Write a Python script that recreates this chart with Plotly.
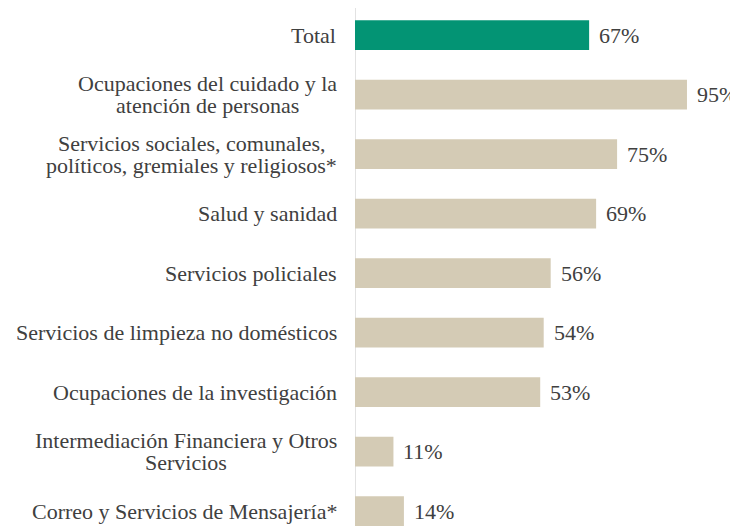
import plotly.graph_objects as go

categories = [
    ["Total"],
    ["Ocupaciones del cuidado y la", "atención de personas"],
    ["Servicios sociales, comunales,", "políticos, gremiales y religiosos*"],
    ["Salud y sanidad"],
    ["Servicios policiales"],
    ["Servicios de limpieza no domésticos"],
    ["Ocupaciones de la investigación"],
    ["Intermediación Financiera y Otros", "Servicios"],
    ["Correo y Servicios de Mensajería*"],
]
values = [67, 95, 75, 69, 56, 54, 53, 11, 14]
value_labels = ["67%", "95%", "75%", "69%", "56%", "54%", "53%", "11%", "14%"]
colors = ["#039474"] + ["#D4CBB5"] * 8

FONT = "Liberation Serif, Times New Roman, serif"
TXT = "#404040"
FS = 22
LINE = 22  # px between stacked label lines

# Times/Liberation Serif advance widths (per 1000 em) for centering stacked lines
W = {" ": 250, ",": 250, "*": 500, "a": 444, "b": 500, "c": 444, "d": 500, "e": 444,
     "f": 333, "g": 500, "h": 500, "i": 278, "j": 278, "k": 500, "l": 278, "m": 778,
     "n": 500, "o": 500, "p": 500, "q": 500, "r": 333, "s": 389, "t": 278, "u": 500,
     "v": 500, "w": 722, "x": 500, "y": 500, "z": 444, "á": 444, "é": 444, "í": 278,
     "ó": 500, "O": 722, "S": 556, "I": 333, "F": 556, "C": 667, "T": 611, "M": 889}


def text_width(s):
    return sum(W.get(ch, 500) for ch in s) * FS / 1000.0


pos = list(range(len(categories)))

fig = go.Figure()
fig.add_trace(go.Bar(
    x=values, y=pos, orientation="h",
    marker=dict(color=colors, line=dict(width=0)),
    width=0.5, hoverinfo="skip",
))

GAP = 18
annotations = []
for i, (lines, v, lab) in enumerate(zip(categories, values, value_labels)):
    n = len(lines)
    block_w = max(text_width(s) for s in lines)
    for k, s in enumerate(lines):
        yshift = ((n - 1) / 2 - k) * LINE
        annotations.append(dict(
            x=0, xref="paper", y=i, yref="y", text=s, showarrow=False,
            xanchor="center", yanchor="middle",
            xshift=-GAP - block_w / 2, yshift=yshift,
            font=dict(family=FONT, size=FS, color=TXT),
        ))
    annotations.append(dict(
        x=v, xref="x", y=i, yref="y", text=lab, showarrow=False,
        xanchor="left", yanchor="middle", xshift=8,
        font=dict(family=FONT, size=FS, color=TXT),
    ))

fig.update_layout(
    width=730, height=518,
    margin=dict(l=347, r=0, t=0, b=0),
    paper_bgcolor="white", plot_bgcolor="white",
    showlegend=False,
    xaxis=dict(range=[0, 109.6], visible=False, fixedrange=True),
    yaxis=dict(range=[8.252, -0.4538], visible=False, fixedrange=True),
    annotations=annotations,
    shapes=[dict(type="line", xref="x", yref="y", x0=0, x1=0, y0=-0.49, y1=8.252,
                 line=dict(color="#D9D9D9", width=1.5), layer="below")],
)

fig.write_html("out.html")
